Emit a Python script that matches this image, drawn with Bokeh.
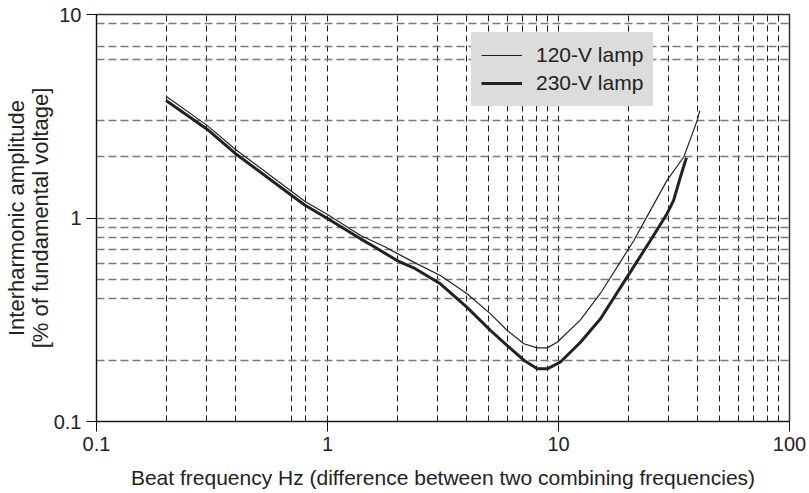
from bokeh.plotting import figure
from bokeh.models import Range1d, FixedTicker, Legend, LegendItem
from bokeh.embed import file_html
from bokeh.resources import INLINE

# ---- data ----
freq_120 = [0.2, 0.3, 0.4, 0.7, 0.8, 1.0, 1.39, 1.78, 2.0, 2.36, 3.08, 4.02, 5.08, 6.0, 7.08,
            8.09, 8.94, 9.87, 12.45, 15.2, 21.2, 25.0, 29.5, 34.9, 39.8, 40.9]
amp_120 = [3.97, 2.86, 2.17, 1.35, 1.205, 1.04, 0.82, 0.72, 0.67, 0.607, 0.522, 0.424, 0.338, 0.28, 0.241,
           0.230, 0.230, 0.245, 0.316, 0.427, 0.775, 1.09, 1.53, 2.0, 3.0, 3.37]

freq_230 = [0.2, 0.3, 0.4, 0.7, 0.8, 1.0, 1.39, 1.6, 2.0, 2.36, 3.08, 4.02, 5.08, 6.0, 7.08,
            8.09, 8.94, 10.2, 12.45, 15.2, 19.8, 25.0, 29.5, 31.5, 33.7, 35.8]
amp_230 = [3.78, 2.74, 2.07, 1.29, 1.155, 0.995, 0.79, 0.72, 0.618, 0.569, 0.475, 0.364, 0.28, 0.236, 0.20,
           0.1815, 0.1815, 0.196, 0.245, 0.32, 0.512, 0.775, 1.05, 1.22, 1.59, 1.98]

x_major_ticks = [0.1, 1, 10, 100]
x_tick_labels = ["0.1", "1", "10", "100"]
y_major_ticks = [0.1, 1, 10]
y_tick_labels = ["0.1", "1", "10"]

x_grid_values = [0.2, 0.3, 0.4, 0.7, 0.8, 1, 2, 3, 4, 5, 6, 7, 8, 9, 10,
                 20, 30, 40, 50, 60, 70, 80, 90]
y_grid_values = [0.2, 0.4, 0.5, 0.6, 0.7, 0.8, 0.9, 1, 2, 3, 6, 7, 9]

series_labels = ["120-V lamp", "230-V lamp"]
x_title = "Beat frequency Hz (difference between two combining frequencies)"
y_title = "Interharmonic amplitude\n[% of fundamental voltage]"

FONT = "Liberation Sans"
TXT = "#222222"

p = figure(width=809, height=493, x_axis_type="log", y_axis_type="log",
           x_range=Range1d(0.1, 100), y_range=Range1d(0.1, 10),
           output_backend="svg", toolbar_location=None,
           min_border_left=96, min_border_right=20, min_border_top=14, min_border_bottom=72)
p.background_fill_color = "white"
p.border_fill_color = "white"
p.outline_line_color = "#333333"
p.outline_line_width = 1.5

# grids
p.xgrid.ticker = FixedTicker(ticks=x_grid_values)
p.ygrid.ticker = FixedTicker(ticks=y_grid_values)
p.xgrid.grid_line_color = "#1a1a1a"
p.xgrid.grid_line_width = 1
p.xgrid.grid_line_dash = "6 4"
p.ygrid.grid_line_color = "#7a7a7a"
p.ygrid.grid_line_width = 1.5
p.ygrid.grid_line_dash = "8 4"

# axes
for ax, ticks, labels in ((p.xaxis[0], x_major_ticks, x_tick_labels),
                          (p.yaxis[0], y_major_ticks, y_tick_labels)):
    ax.ticker = FixedTicker(ticks=ticks)
    ax.major_label_overrides = {t: l for t, l in zip(ticks, labels)}
    ax.axis_line_color = "#111111"
    ax.axis_line_width = 1
    ax.major_tick_line_color = "#111111"
    ax.major_tick_out = 10
    ax.major_tick_in = 0
    ax.minor_tick_line_color = None
    ax.major_label_text_font = FONT
    ax.major_label_text_font_size = "20px"
    ax.major_label_text_color = TXT
    ax.axis_label_text_font = FONT
    ax.axis_label_text_font_style = "normal"
    ax.axis_label_text_color = TXT
p.xaxis.major_label_standoff = 5
p.yaxis.major_label_standoff = 5
p.xaxis.axis_label = x_title
p.xaxis.axis_label_text_font_size = "21px"
p.xaxis.axis_label_text_line_height = 1.0
p.xaxis.axis_label_standoff = 12
p.yaxis.axis_label = y_title
p.yaxis.axis_label_text_font_size = "22px"
p.yaxis.axis_label_standoff = -2
p.yaxis.axis_label_text_line_height = 0.95

r120 = p.line(freq_120, amp_120, line_color="#222222", line_width=1.2)
r230 = p.line(freq_230, amp_230, line_color="#222222", line_width=3)

legend = Legend(items=[LegendItem(label=series_labels[0], renderers=[r120]),
                       LegendItem(label=series_labels[1], renderers=[r230])],
                location=(375, 315))
legend.background_fill_color = "#dcdcdc"
legend.background_fill_alpha = 1
legend.border_line_color = "#dcdcdc"
legend.border_line_width = 1
legend.label_text_font = FONT
legend.label_text_font_size = "21px"
legend.label_text_color = TXT
legend.glyph_width = 41
legend.glyph_height = 26
legend.label_height = 26
legend.label_standoff = 14
legend.spacing = 2
legend.padding = 9
legend.margin = 0
p.add_layout(legend)

open("out.html", "w").write(file_html(p, INLINE))
